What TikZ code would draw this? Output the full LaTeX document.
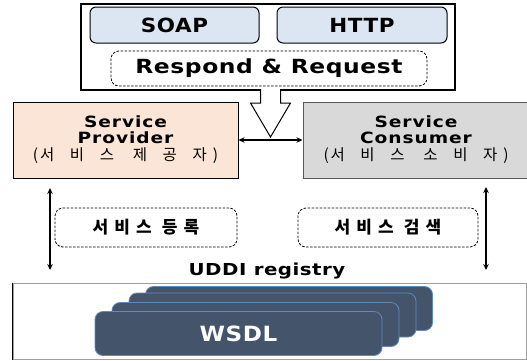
\documentclass[tikz,border=0pt]{standalone}
\usepackage{fontspec}
\usetikzlibrary{arrows.meta}
\newfontfamily\fa{DejaVu Sans}[FakeStretch=1.1,LetterSpace=3]
\newfontfamily\fb{DejaVu Sans}[FakeStretch=1.2,LetterSpace=3]
\newfontfamily\fc{DejaVu Sans}[FakeStretch=1.2,LetterSpace=6]
\newfontfamily\kr{Noto Sans CJK KR}[LetterSpace=100]
\newfontfamily\krn{Noto Sans CJK KR}
\newfontfamily\krb{Noto Sans CJK KR}[LetterSpace=36]
\newcommand\krsub[1]{{\mdseries\fontsize{15.5}{15.5}\selectfont{\krn(}\hspace{2pt}{\kr #1}\hspace{6pt}{\krn)}}}
\definecolor{soapblue}{HTML}{DCE6F2}
\definecolor{provfill}{HTML}{FBE5D6}
\definecolor{consfill}{HTML}{D9D9D9}
\definecolor{wsdlfill}{HTML}{44546A}
\definecolor{wsdledge}{HTML}{5B8BC0}
\begin{document}
\begin{tikzpicture}[x=1pt,y=-1pt,
  box/.style={draw, inner sep=0pt, line width=1pt},
  proto/.style={box, rounded corners=6pt, fill=soapblue, minimum height=36pt,
    font=\fa\bfseries\fontsize{19.5}{20}\selectfont},
  dbox/.style={draw, dash pattern=on 2.5pt off 1.5pt, rounded corners=8pt, inner sep=0pt, line width=0.8pt},
  role/.style={box, align=center, minimum width=225pt, minimum height=76pt,
    font=\fc\bfseries\fontsize{15.5}{15.5}\selectfont},
  krtag/.style={dbox, minimum height=39pt, font=\krb\bfseries\fontsize{17}{17}\selectfont},
  wsdl/.style={draw=wsdledge, fill=wsdlfill, rounded corners=8pt, line width=0.8pt, inner sep=0pt,
    minimum width=287pt, minimum height=44pt},
  biarrow/.style={{Stealth[length=6pt,width=5.5pt]}-{Stealth[length=6pt,width=5.5pt]}, line width=1.1pt},
]
\useasboundingbox (0,0) rectangle (527,360);

% top protocol box
\node[box, line width=1.2pt, minimum width=374pt, minimum height=86pt, fill=white] (top) at (268,47) {};
\node[proto, minimum width=169pt] (soap) at (174.5,25) {SOAP};
\node[proto, minimum width=170pt] (http) at (362,25) {HTTP};
\node[dbox, minimum width=316pt, minimum height=35pt, font=\fb\bfseries\fontsize{19.5}{20}\selectfont] (rr) at (269,68.5) {Respond \& Request};

% hollow arrow
\coordinate (ha) at (270.5,90);
\filldraw[fill=white, line width=1pt, line join=miter] (ha) ++(-10,-1) -- ++(0,14) -- ++(-10,0) -- ++(20,34) -- ++(20,-34) -- ++(-10,0) -- ++(0,-14);

% roles
\node[role, fill=provfill] (prov) at (125.5,140)
  {Service\\Provider\\[2pt]\krsub{서비스 제공자}};
\node[role, fill=consfill, draw=gray!70!black, minimum width=226pt] (cons) at (416,140)
  {Service\\Consumer\\[2pt]\krsub{서비스 소비자}};
\draw[biarrow] (prov.east) -- (cons.west);

% registration / search
\node[krtag, minimum width=182pt] (reg) at (146,227.5) {서비스 등록};
\node[krtag, minimum width=180pt] (srch) at (388,227.5) {서비스 검색};

\coordinate (l1) at (50,188);
\coordinate (l2) at (50,270);
\coordinate (r1) at (486,187);
\coordinate (r2) at (486,270);
\draw[biarrow] (l1) -- (l2);
\draw[biarrow] (r1) -- (r2);

% UDDI registry
\node[anchor=base, inner sep=0pt, font=\fb\bfseries\fontsize{16.5}{17}\selectfont] (uddi) at (267,275) {UDDI registry};
\node[draw=gray!75, line width=1pt, inner sep=0pt, minimum width=513pt, minimum height=76pt] (reg2) at (269.5,321) {};
\draw[line width=1.2pt] (reg2.north west) -- (reg2.south west);

% WSDL stack
\node[wsdl] (w4) at (289,308.5) {};
\node[wsdl] (w3) at (272.5,315) {};
\node[wsdl] (w2) at (255.5,324.5) {};
\node[wsdl, text=white, font=\fa\bfseries\fontsize{21}{21}\selectfont] (w1) at (238.5,333.5) {WSDL};
\end{tikzpicture}
\end{document}
